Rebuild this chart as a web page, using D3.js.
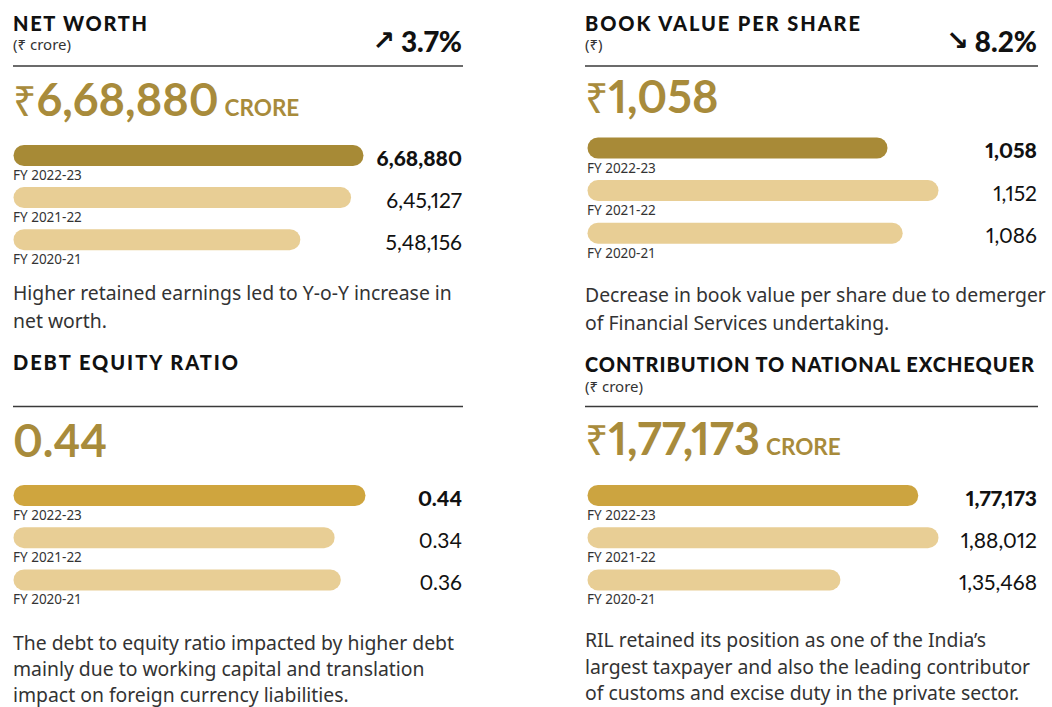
<!DOCTYPE html>
<html><head><meta charset="utf-8">
<script src="https://cdn.jsdelivr.net/npm/d3@7"></script>
<style>body{margin:0;background:#fff}svg{display:block}.pn{font-variant-numeric:proportional-nums;font-feature-settings:"pnum" 1}</style>
</head><body>
<svg id="c" width="1052" height="707"></svg>
<script>
// ---------- data ----------
const years = ["FY 2022-23", "FY 2021-22", "FY 2020-21"];
const netWorth = [668880, 645127, 548156];
const bookValue = [1058, 1152, 1086];
const debtEquity = [0.44, 0.34, 0.36];
const exchequer = [177173, 188012, 135468];
const titles = ["NET WORTH", "BOOK VALUE PER SHARE", "DEBT EQUITY RATIO", "CONTRIBUTION TO NATIONAL EXCHEQUER"];
const units = ["(₹ crore)", "(₹)", "", "(₹ crore)"];
const changeDirs = ["up", "down", null, null];
const changeTexts = ["3.7%", "8.2%", null, null];
const headPrefix = ["₹", "₹", "", "₹"];
const headSuffix = ["CRORE", "", "", "CRORE"];
const notes = [
  ["Higher retained earnings led to Y-o-Y increase in", "net worth."],
  ["Decrease in book value per share due to demerger", "of Financial Services undertaking."],
  ["The debt to equity ratio impacted by higher debt", "mainly due to working capital and translation", "impact on foreign currency liabilities."],
  ["RIL retained its position as one of the India\u2019s", "largest taxpayer and also the leading contributor", "of customs and excise duty in the private sector."]
];
const series = [netWorth, bookValue, debtEquity, exchequer];

// ---------- layout ----------
const layout = [
  {x0:13, x1:462, bx:13.5, titleW:134, titleY:31, unitY:50, chgY:52, ruleY:66, headY:116, barTop:145, pitch:42.1, noteY:300, noteLH:27.5, hi:"#A78A36", dom:[0,668880], w:350},
  {x0:585, x1:1037, bx:587.5, titleW:275, titleY:31, unitY:50, chgY:52, ruleY:66, headY:113, barTop:137.5, pitch:42.6, noteY:302, noteLH:27.5, hi:"#A88A37", dom:[505,1152], w:351},
  {x0:13, x1:462, bx:13.5, titleW:225, titleY:370, unitY:null, chgY:null, ruleY:406.5, headY:456.5, barTop:485, pitch:42.2, noteY:649.5, noteLH:26.3, hi:"#CFA53E", dom:[-0.7,0.44], w:352},
  {x0:585, x1:1037, bx:587.5, titleW:449, titleY:372, unitY:392, chgY:null, ruleY:406.5, headY:455, barTop:485, pitch:42.2, noteY:647, noteLH:26.6, hi:"#CCA440", dom:[0,188012], w:351}
];
const light = "#E8CE95";
const gold = "#A88B3B";
const barH = 21;

function inr(v){
  if (v < 10) return v.toFixed(2);
  const s = Math.round(v).toString();
  if (s.length <= 3) return s;
  const last3 = s.slice(-3);
  const rest = s.slice(0, -3).replace(/\B(?=(\d{2})+(?!\d))/g, ",");
  return rest + "," + last3;
}

const svg = d3.select("#c");
const SANS = "'Noto Sans', 'Open Sans', sans-serif";
const NUM = "Lato, 'Noto Sans', sans-serif";
const HEAD = "Lato, 'DejaVu Sans', sans-serif";

layout.forEach((L, i) => {
  const g = svg.append("g");
  const vals = series[i];

  g.append("text").attr("class", "title")
    .attr("x", L.x0).attr("y", L.titleY)
    .attr("font-family", HEAD).attr("font-weight", 900).attr("font-size", 20)
    .attr("textLength", L.titleW).attr("lengthAdjust", "spacing")
    .attr("fill", "#111").text(titles[i]);

  if (units[i]) {
    g.append("text").attr("x", L.x0).attr("y", L.unitY)
      .attr("font-family", SANS).attr("font-size", 15).attr("fill", "#333")
      .text(units[i]);
  }

  if (changeTexts[i]) {
    const t = g.append("text").attr("x", L.x1).attr("y", L.chgY)
      .attr("text-anchor", "end").attr("fill", "#111");
    t.append("tspan").attr("font-family", "'DejaVu Sans', sans-serif").attr("font-weight", 700).attr("font-size", 27)
      .attr("dy", -2)
      .text(changeDirs[i] === "up" ? "\u2197" : "\u2198");
    t.append("tspan").attr("class", "pn").attr("font-family", NUM).attr("font-weight", 900).attr("font-size", 28)
      .attr("dx", 6).attr("dy", 2).text(changeTexts[i]);
  }

  g.append("line").attr("x1", L.x0).attr("x2", L.x1 + 1)
    .attr("y1", L.ruleY).attr("y2", L.ruleY)
    .attr("stroke", "#3a3a3a").attr("stroke-width", 1.3);

  const h = g.append("text").attr("x", L.x0).attr("y", L.headY).attr("fill", gold);
  if (headPrefix[i]) h.append("tspan").attr("font-family", SANS).attr("font-weight", 400)
      .attr("font-size", 41).text(headPrefix[i]);
  h.append("tspan").attr("class", "pn").attr("font-family", NUM).attr("font-weight", 700).attr("font-size", 45)
    .text(inr(vals[0]));
  if (headSuffix[i]) h.append("tspan").attr("font-family", NUM).attr("font-weight", 700)
      .attr("font-size", 22.5).attr("dx", 6).text(headSuffix[i]);

  const x = d3.scaleLinear().domain(L.dom).range([0, L.w]);
  const y = d3.scaleBand().domain(years).range([L.barTop, L.barTop + L.pitch * 3]).paddingInner(0).paddingOuter(0);

  g.selectAll("rect.bar").data(vals).join("rect").attr("class", "bar")
    .attr("x", L.bx).attr("y", (d, k) => y(years[k]))
    .attr("width", d => x(d)).attr("height", barH)
    .attr("rx", barH / 2).attr("ry", barH / 2)
    .attr("fill", (d, k) => k === 0 ? L.hi : light);

  g.selectAll("text.yr").data(years).join("text").attr("class", "yr")
    .attr("x", L.bx - 0.5).attr("y", d => y(d) + barH + 14)
    .attr("font-family", SANS).attr("font-size", 13.5).attr("fill", "#333")
    .text(d => d);

  g.selectAll("text.val").data(vals).join("text").attr("class", "val pn")
    .attr("x", L.x1).attr("y", (d, k) => y(years[k]) + barH - 0.5)
    .attr("text-anchor", "end")
    .attr("font-family", NUM).attr("font-weight", (d, k) => k === 0 ? 900 : 400)
    .attr("font-size", 21).attr("fill", "#111")
    .text(d => inr(d));

  g.selectAll("text.note").data(notes[i]).join("text").attr("class", "note")
    .attr("x", L.x0).attr("y", (d, k) => L.noteY + k * L.noteLH)
    .attr("font-family", SANS).attr("font-size", 19).attr("fill", "#333")
    .text(d => d);
});

// calibrate note size against the first line's width
(function(){
  const first = svg.select("text.note").node();
  const len = first.getComputedTextLength();
  svg.selectAll("text.note").attr("font-size", (19 * 439 / len).toFixed(2));
})();
</script>
</body></html>
